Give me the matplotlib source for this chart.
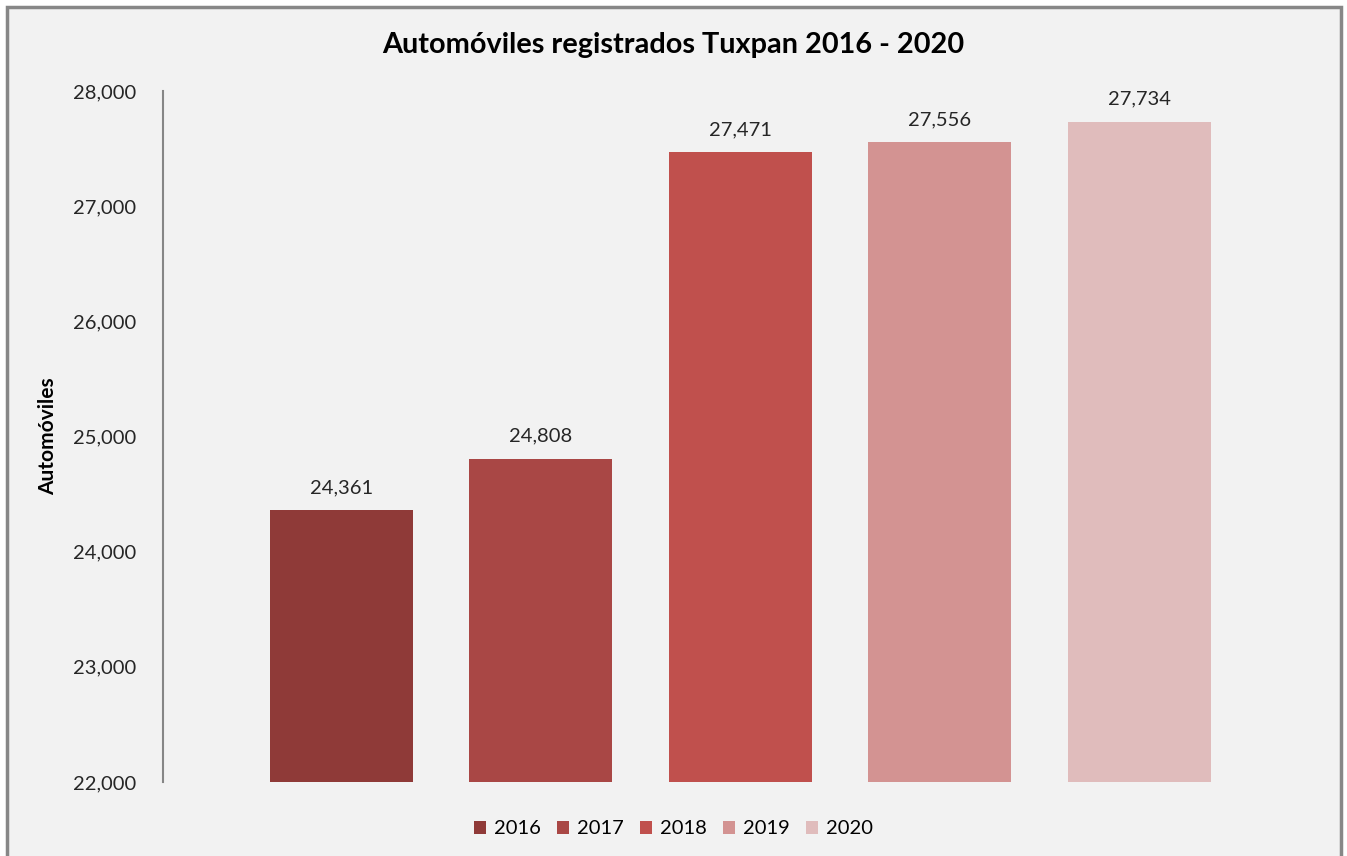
import matplotlib.pyplot as plt
from matplotlib.patches import Rectangle, Patch
from matplotlib.ticker import FuncFormatter

years = ["2016", "2017", "2018", "2019", "2020"]
values = [24361, 24808, 27471, 27556, 27734]
colors = ["#8f3a38", "#a94745", "#c0504d", "#d39392", "#e0bcbc"]

plt.rcParams['font.family'] = ['Lato', 'DejaVu Sans']

fig = plt.figure(figsize=(13.47, 8.56), dpi=100)
fig.patch.set_facecolor("white")
# chart area frame
fig.patches.append(Rectangle((7 / 1347, -0.02), (1341 - 7) / 1347, 1 - 7 / 856 + 0.02,
                             transform=fig.transFigure, facecolor="#f2f2f2",
                             edgecolor="#878787", linewidth=2.5, zorder=-10))

ax = fig.add_axes([163 / 1347, 1 - 782 / 856, (1317 - 163) / 1347, (782 - 91) / 856])
ax.set_facecolor("none")

x = list(range(len(years)))
ax.bar(x, values, width=0.717, color=colors, bottom=0, zorder=2)
for xi, v in zip(x, values):
    ax.text(xi, v + 120, f"{v:,}", ha="center", va="bottom", fontsize=14.5, color="#262626")

ax.set_ylim(22000, 28000)
ax.set_xlim(-0.895, 4.892)
ax.set_yticks(range(22000, 28001, 1000))
ax.yaxis.set_major_formatter(FuncFormatter(lambda v, p: f"{int(v):,}"))
ax.set_xticks([])
ax.tick_params(axis="y", length=0, pad=19, labelsize=14.5, labelcolor="#262626")
for s in ["top", "right", "bottom"]:
    ax.spines[s].set_visible(False)
ax.spines["left"].set_color("#868686")
ax.spines["left"].set_linewidth(1.5)

ax.set_ylabel("Automóviles", fontsize=15, fontweight="bold", labelpad=0)
ax.yaxis.set_label_coords(-(163 - 58) / 1154, 0.5)

fig.text(0.5, 1 - 45 / 856, "Automóviles registrados Tuxpan 2016 - 2020",
         ha="center", va="center", fontsize=20.8, fontweight="bold", color="black")

handles = [Patch(facecolor=c, label=y) for c, y in zip(colors, years)]
fig.legend(handles=handles, loc="center", bbox_to_anchor=(0.5, 1 - 829 / 856), ncol=5,
           frameon=False, fontsize=14.5, handlelength=0.6, handleheight=0.6,
           handletextpad=0.4, columnspacing=0.8)

fig.savefig("out.png", dpi=100)
